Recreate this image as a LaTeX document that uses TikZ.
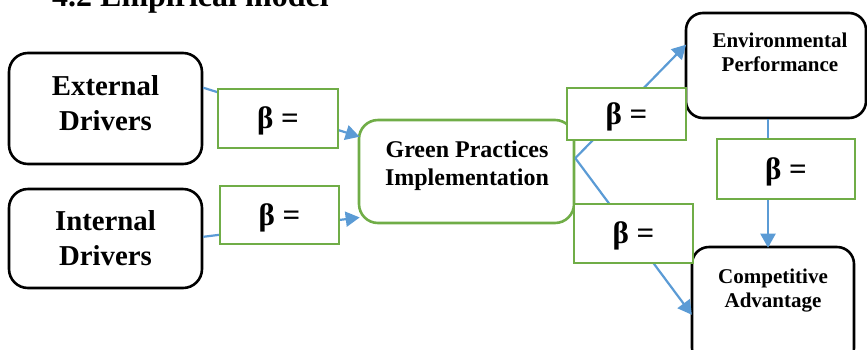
\documentclass[tikz,border=0pt]{standalone}
\usepackage{fontspec}
\setmainfont{Liberation Serif}
\usetikzlibrary{arrows.meta,calc}

\definecolor{linkblue}{HTML}{5B9BD5}
\definecolor{boxgreen}{HTML}{70AD47}

\tikzset{
  blackbox/.style={draw=black, line width=2.6pt, rounded corners=19pt, fill=white, inner sep=0pt},
  greenbox/.style={draw=boxgreen, line width=2.6pt, rounded corners=19pt, fill=white, inner sep=0pt},
  betabox/.style={draw=boxgreen, line width=2.6pt, fill=white, inner sep=0pt,
    text height=24pt, text depth=4pt,
    font=\fontsize{31}{36}\selectfont\bfseries},
  lbl/.style={align=center, inner sep=0pt},
  bigtxt/.style={lbl, font=\fontsize{28.8}{35}\selectfont\bfseries},
  midtxt/.style={lbl, font=\fontsize{24}{28}\selectfont\bfseries},
  smalltxt/.style={lbl, font=\fontsize{21}{24.5}\selectfont\bfseries},
  link/.style={draw=linkblue, line width=2.2pt},
  arr/.style={link, -{Triangle[length=14pt, width=15pt]}, shorten >=-2pt},
}

\begin{document}
\begin{tikzpicture}[x=1pt, y=-1pt]
  \useasboundingbox (0,0) rectangle (867,349);
  \clip (0,0) rectangle (867,349);

  % section heading, running off the top edge
  \node[anchor=base west, inner sep=0pt, font=\fontsize{32}{36}\selectfont\bfseries]
    (heading) at (52,6) {4.2 Empirical model};

  % constructs
  \node[blackbox, minimum width=193pt, minimum height=111pt] (ext) at (105.5,108.5) {};
  \node[bigtxt] (extT) at (105.5,102.7) {External\\Drivers};

  \node[blackbox, minimum width=193pt, minimum height=99pt] (int) at (105.5,238.5) {};
  \node[bigtxt] (intT) at (105.5,237.7) {Internal\\Drivers};

  \node[greenbox, minimum width=215pt, minimum height=103pt] (gp) at (466.5,171.5) {};
  \node[midtxt] (gpT) at (467,165.5) {Green Practices\\Implementation};

  \node[blackbox, rounded corners=17pt, minimum width=180pt, minimum height=105pt] (ep) at (776,65.5) {};
  \node[smalltxt] (epT) at (780,52.4) {Environmental\\Performance};

  \node[blackbox, rounded corners=17pt, minimum width=162pt, minimum height=118pt] (ca) at (773,306) {};
  \node[smalltxt] (caT) at (773,290.3) {Competitive\\Advantage};

  % paths between constructs
  \draw[arr] (ext.12) -- (gp.162);
  \draw[arr] (int.1.5) -- (gp.203);
  \draw[arr] (gp.7) -- (ep.168);
  \draw[arr] (gp.7) -- (ca.185);
  \draw[arr] ([xshift=-8pt]ep.south) -- ([xshift=-8pt]ep.south |- ca.north);

  % coefficient boxes sitting on the paths
  \node[betabox, minimum width=120pt, minimum height=59pt] (b1) at (278,118.5) {β =};
  \node[betabox, minimum width=119pt, minimum height=58pt] (b2) at (279.5,215) {β =};
  \node[betabox, minimum width=119pt, minimum height=52pt] (b3) at (626.5,114) {β =};
  \node[betabox, minimum width=119pt, minimum height=59pt] (b4) at (633.5,233.5) {β =};
  \node[betabox, minimum width=138pt, minimum height=60pt] (b5) at (786,169) {β =};
\end{tikzpicture}
\end{document}
